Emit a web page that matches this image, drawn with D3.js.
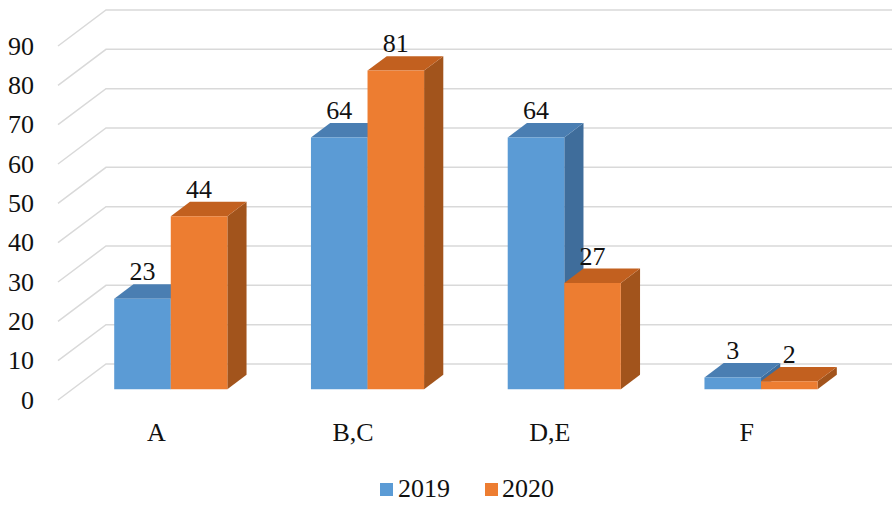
<!DOCTYPE html>
<html>
<head>
<meta charset="utf-8">
<script src="https://cdn.jsdelivr.net/npm/d3@7"></script>
<style>
  html, body { margin: 0; padding: 0; background: #fff; }
  svg { display: block; }
</style>
</head>
<body>
<svg id="chart" width="892" height="508"></svg>
<script>
// ---- data ----
const categories = ["A", "B,C", "D,E", "F"];
const seriesNames = ["2019", "2020"];
const values2019 = [23, 64, 64, 3];
const values2020 = [44, 81, 27, 2];
const yTicks = [0, 10, 20, 30, 40, 50, 60, 70, 80, 90];

// ---- layout ----
const W = 892, H = 508;
const FONT = "'Liberation Serif', 'Times New Roman', 'DejaVu Serif', serif";
const depthDX = 48, depthDY = 36;       // full floor depth offset
const barD0 = 0.3, barD1 = 0.7;         // bar depth span (fraction)
const colors = {
  "2019": { front: "#5B9BD5", top: "#4A7EB2", side: "#3F6D9B" },
  "2020": { front: "#ED7D31", top: "#C2601F", side: "#A2541C" }
};

const svg = d3.select("#chart")
  .attr("font-family", FONT)
  .style("font-family", FONT);

const y = d3.scaleLinear().domain([0, 90]).range([400, 46]);
const x = d3.scaleBand().domain(categories).range([58, 845]);
const pairW = x.bandwidth() * 0.575;
const x1 = d3.scaleBand().domain(seriesNames).range([0, pairW]);

// projection of (front x, value, depth fraction) to screen
const P = (xf, v, d) => [xf + depthDX * d, y(v) - depthDY * d];

// ---- gridlines (left wall diagonal + back wall horizontal) ----
const grid = svg.append("g").attr("stroke", "#D9D9D9").attr("stroke-width", 1.5).attr("fill", "none");
yTicks.forEach(v => {
  const a = P(58, v, 0), b = P(58, v, 1);
  grid.append("path").attr("d", `M${a[0]},${a[1]}L${b[0]},${b[1]}L${W},${b[1]}`);
});

const txt = sel => sel.attr("font-family", FONT).style("font-family", FONT)
  .attr("font-size", 26).attr("fill", "#111");

// ---- y tick labels ----
svg.append("g").selectAll("text").data(yTicks).join("text")
  .call(txt)
  .attr("x", 34).attr("y", d => y(d)).attr("dy", "0.33em")
  .attr("text-anchor", "end")
  .text(d => d);

// ---- bars ----
const rows = [];
categories.forEach((c, i) => {
  rows.push({ cat: c, s: "2019", v: values2019[i] });
  rows.push({ cat: c, s: "2020", v: values2020[i] });
});

const bars = svg.append("g");
rows.forEach(r => {
  const xl = x(r.cat) + (x.bandwidth() - pairW) / 2 + x1(r.s);
  const xr = xl + x1.bandwidth();
  const col = colors[r.s];
  const f00 = P(xl, 0, barD0), f10 = P(xr, 0, barD0), f11 = P(xr, r.v, barD0), f01 = P(xl, r.v, barD0);
  const b10 = P(xr, 0, barD1), b11 = P(xr, r.v, barD1), b01 = P(xl, r.v, barD1);
  const poly = pts => "M" + pts.map(p => p.join(",")).join("L") + "Z";
  const g = bars.append("g");
  g.append("path").attr("d", poly([f10, b10, b11, f11])).attr("fill", col.side);
  g.append("path").attr("d", poly([f01, f11, b11, b01])).attr("fill", col.top);
  g.append("path").attr("d", poly([f00, f10, f11, f01])).attr("fill", col.front);
  g.append("text").call(txt)
    .attr("x", (f00[0] + f10[0]) / 2)
    .attr("y", b11[1] - 4)
    .attr("text-anchor", "middle")
    .text(r.v);
});

// ---- category labels ----
svg.append("g").selectAll("text").data(categories).join("text")
  .call(txt)
  .attr("x", d => x(d) + x.bandwidth() / 2).attr("y", 441)
  .attr("text-anchor", "middle")
  .text(d => d);

// ---- legend ----
const legend = svg.append("g");
const legendPos = [{ s: "2019", sx: 380, tx: 398 }, { s: "2020", sx: 485, tx: 502 }];
legendPos.forEach(l => {
  legend.append("rect").attr("x", l.sx).attr("y", 483).attr("width", 13).attr("height", 13)
    .attr("fill", colors[l.s].front);
  legend.append("text").call(txt).attr("x", l.tx).attr("y", 497).text(l.s);
});
</script>
</body>
</html>
